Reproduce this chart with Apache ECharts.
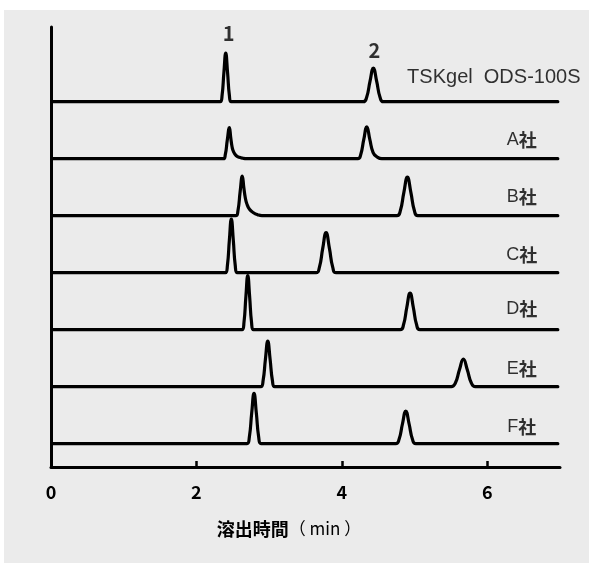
<!DOCTYPE html>
<html>
<head>
<meta charset="utf-8">
<script src="https://cdn.jsdelivr.net/npm/echarts@6/dist/echarts.min.js"></script>
<style>
html,body{margin:0;padding:0;background:#ffffff;}
#chart{width:589px;height:565px;}
</style>
</head>
<body>
<div id="chart"></div>
<script>
// ---- data (time in min, signal above each trace's baseline) ----
const traceNames = ['TSKgel  ODS-100S', 'A社', 'B社', 'C社', 'D社', 'E社', 'F社'];
const peakNumbers = ['1', '2'];
const xTicks = [0, 2, 4, 6];
const xTitleBold = '溶出時間';
const xTitleUnit = '（ min ）';

const tskgel = [[0.015,0],[2.328,0],[2.353,6.5],[2.378,29.4],[2.403,48.5],[2.428,29.4],[2.453,6.5],[2.478,0],
  [4.295,0],[4.341,4.5],[4.387,20.3],[4.433,33.5],[4.479,20.3],[4.525,4.5],[4.571,0],[6.97,0]];
const companyA = [[0.015,0],[2.37,0],[2.397,4],[2.425,19],[2.453,31],[2.472,21],[2.49,12],[2.51,7],[2.545,3.2],[2.59,1.4],[2.64,0.4],[2.69,0],
  [4.22,0],[4.259,4],[4.301,19],[4.343,31.8],[4.385,19],[4.43,6],[4.48,2],[4.55,0],[6.97,0]];
const companyB = [[0.015,0],[2.54,0],[2.571,5],[2.601,24],[2.631,39.5],[2.652,28],[2.672,18],[2.693,12],[2.73,6.5],[2.785,3],[2.84,1],[2.9,0],
  [4.757,0],[4.805,5.2],[4.853,23.4],[4.901,38.5],[4.949,23.4],[4.997,5.2],[5.045,0],[6.97,0]];
const companyC = [[0.015,0],[2.399,0],[2.426,7.2],[2.453,32.5],[2.48,53.5],[2.507,32.5],[2.534,7.2],[2.561,0],
  [3.645,0],[3.691,5.4],[3.737,24.3],[3.783,40],[3.829,24.3],[3.875,5.4],[3.921,0],[6.97,0]];
const companyD = [[0.015,0],[2.628,0],[2.654,7.3],[2.68,32.8],[2.706,54],[2.732,32.8],[2.758,7.3],[2.784,0],
  [4.803,0],[4.848,4.9],[4.893,22.2],[4.938,36.5],[4.983,22.2],[5.028,4.9],[5.073,0],[6.97,0]];
const companyE = [[0.015,0],[2.885,0],[2.917,6.1],[2.949,27.6],[2.981,45.5],[3.013,27.6],[3.045,6.1],[3.077,0],
  [5.506,0],[5.561,3.7],[5.616,16.7],[5.671,27.5],[5.726,16.7],[5.781,3.7],[5.836,0],[6.97,0]];
const companyF = [[0.015,0],[2.696,0],[2.728,6.8],[2.76,30.5],[2.792,50.3],[2.824,30.5],[2.856,6.8],[2.888,0],
  [4.741,0],[4.787,4.4],[4.833,19.7],[4.879,32.5],[4.925,19.7],[4.971,4.4],[5.017,0],[6.97,0]];

const traces = [tskgel, companyA, companyB, companyC, companyD, companyE, companyF];
// apex points of the TSKgel trace that carry the peak numbers
const tskPeakApex = [[2.403, 48.5], [4.433, 33.5]];

// ---- layout / style ----
const LINE = '#000000';
const TEXT = '#000000';
const SPACING = 57;       // vertical offset between traces (axis units)
const FIRST_BASE = 23.3;  // baseline of the lowest trace
const labelDy = [-24, -19, -19, -18, -21, -18, -17];
const CJK = '"Noto Sans CJK JP", "Noto Sans CJK SC", sans-serif';
const LATIN = '"Liberation Sans", Arial, sans-serif';

const n = traces.length;
const bases = traces.map((_, i) => FIRST_BASE + (n - 1 - i) * SPACING);

const series = traces.map((pts, i) => ({
  type: 'line',
  name: traceNames[i],
  data: pts.map(p => [p[0], bases[i] + p[1]]),
  smooth: 0.5,
  symbol: 'none',
  lineStyle: { color: LINE, width: 3.2, join: 'round', cap: 'round' },
  silent: true,
  z: 3
}));

// trace names (anchored at the right end of each baseline)
series.push({
  type: 'scatter',
  symbolSize: 0,
  silent: true,
  z: 4,
  data: traceNames.map((name, i) => ({
    value: [6.97, bases[i]],
    label: {
      show: true,
      position: 'inside',
      align: 'center',
      verticalAlign: 'middle',
      offset: [i === 0 ? -64 : -36, labelDy[i]],
      formatter: name.endsWith('社') ? '{l|' + name.slice(0, -1) + '}{k|社}' : '{t|' + name + '}',
      rich: {
        t: { fontFamily: LATIN, fontSize: 20, color: TEXT },
        l: { fontFamily: LATIN, fontSize: 18, color: TEXT },
        k: { fontFamily: CJK, fontSize: 18, fontWeight: 'bold', color: TEXT }
      }
    }
  }))
});

// peak numbers above the TSKgel peaks
series.push({
  type: 'scatter',
  symbolSize: 0,
  silent: true,
  z: 4,
  data: tskPeakApex.map((p, k) => ({
    value: [p[0], bases[0] + p[1]],
    label: {
      show: true,
      position: 'top',
      distance: 9,
      offset: k === 0 ? [3, -1] : [1, 1],
      formatter: peakNumbers[k],
      fontFamily: CJK,
      fontWeight: 'bold',
      fontSize: 20,
      color: TEXT
    }
  }))
});

const chart = echarts.init(document.getElementById('chart'), null, { renderer: 'canvas' });
chart.setOption({
  animation: false,
  backgroundColor: 'transparent',
  graphic: [{
    type: 'rect',
    left: 4, top: 10,
    shape: { width: 585, height: 553 },
    style: { fill: '#ebebeb' },
    z: -100,
    silent: true
  }],
  grid: { left: 51, right: 29, top: 27, bottom: 98, containLabel: false },
  xAxis: {
    type: 'value',
    min: 0, max: 7, interval: 2,
    axisLine: { show: true, onZero: false, lineStyle: { color: LINE, width: 3 } },
    axisTick: { show: true, inside: true, length: 6, customValues: [2, 4, 6], lineStyle: { color: LINE, width: 2.5 } },
    axisLabel: {
      customValues: xTicks,
      margin: 16,
      fontFamily: CJK, fontWeight: 'bold', fontSize: 18, color: TEXT
    },
    splitLine: { show: false },
    name: '{b|' + xTitleBold + '}{r|' + xTitleUnit + '}',
    nameLocation: 'middle',
    nameGap: 53,
    nameTextStyle: {
      padding: [0, 33, 0, 0],
      rich: {
        b: { fontFamily: CJK, fontWeight: 'bold', fontSize: 18, color: TEXT },
        r: { fontFamily: CJK, fontSize: 17, color: TEXT }
      }
    }
  },
  yAxis: {
    type: 'value',
    min: 0, max: 440,
    axisLine: { show: true, lineStyle: { color: LINE, width: 3 } },
    axisTick: { show: false },
    axisLabel: { show: false },
    splitLine: { show: false }
  },
  series: series
});
</script>
</body>
</html>
